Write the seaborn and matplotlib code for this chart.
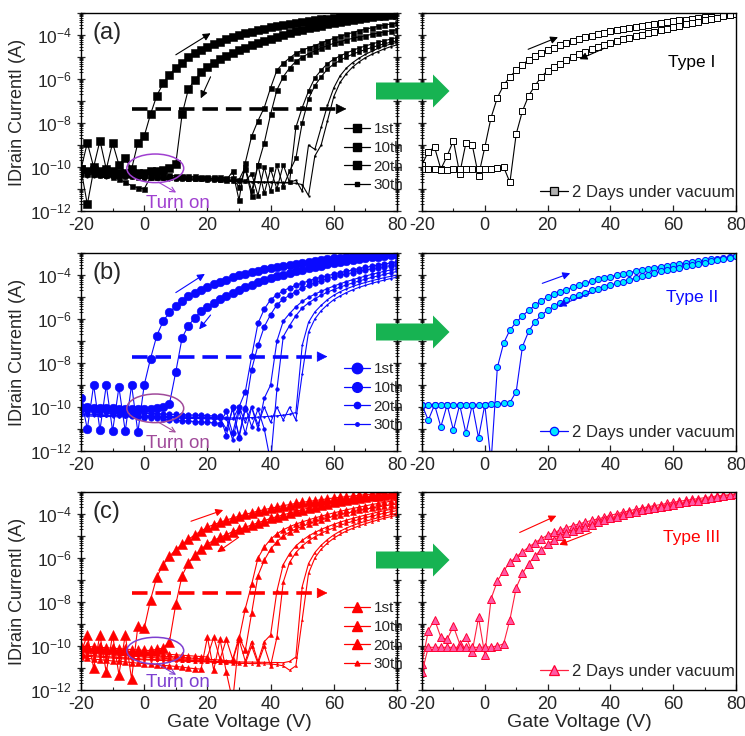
from __future__ import annotations

import matplotlib

matplotlib.use("Agg")
import matplotlib.pyplot as plt
from matplotlib.lines import Line2D
from matplotlib.patches import Ellipse, Polygon
from matplotlib.ticker import FuncFormatter, LogLocator, MultipleLocator, NullFormatter
import numpy as np
import pandas as pd
import seaborn as sns


GATE_V = list(range(-20, 81, 2))
CYCLES = ["1st", "10th", "20th", "30th"]
VAC_LABEL = "2 Days under vacuum"
TYPE_LABELS = ["Type I", "Type II", "Type III"]

# log10(drain current / A), every 2 V from -20 V to 80 V
A1_FWD = [-10.1, -8.9, -10.0, -8.8, -10.1, -8.9, -9.9, -9.6, -10.1, -8.9,
          -8.6, -7.6, -6.75, -6.2, -5.8, -5.5, -5.25, -5.0, -4.82, -4.67,
          -4.53, -4.42, -4.3, -4.2, -4.1, -4.0, -3.92, -3.85, -3.78, -3.72,
          -3.65, -3.6, -3.54, -3.49, -3.44, -3.4, -3.36, -3.32, -3.28, -3.25,
          -3.22, -3.19, -3.16, -3.14, -3.12, -3.1, -3.08, -3.07, -3.06, -3.05,
          -3.04]
A1_REV = [-10.1, -11.7, -10.15, -10.2, -10.2, -10.2, -10.25, -10.25, -10.25, -10.25,
          -10.25, -10.2, -10.2, -10.15, -10.05, -9.85, -7.6, -6.45, -6.05, -5.7,
          -5.44, -5.25, -5.1, -4.95, -4.83, -4.7, -4.58, -4.47, -4.36, -4.26,
          -4.17, -4.08, -4.0, -3.92, -3.84, -3.77, -3.7, -3.63, -3.57, -3.51,
          -3.45, -3.4, -3.35, -3.3, -3.26, -3.22, -3.18, -3.15, -3.12, -3.1,
          -3.08]
A10_FWD = [-10.1, -10.2, -10.25, -10.3, -10.35, -10.45, -10.55, -10.7, -10.85, -10.95,
           -11.0, -10.45, -10.45, -10.45, -10.45, -10.45, -10.45, -10.48, -10.5, -10.5,
           -10.5, -10.52, -10.55, -10.6, -10.2, -11.5, -9.8, -8.6, -7.9, -7.3,
           -6.4, -5.6, -5.28, -5.05, -4.83, -4.7, -4.58, -4.48, -4.36, -4.25,
           -4.15, -4.06, -3.97, -3.89, -3.8, -3.74, -3.67, -3.61, -3.55, -3.5,
           -3.46]
A10_REV = [-10.1, -10.1, -10.12, -10.15, -10.18, -10.2, -10.22, -10.25, -10.28, -10.3,
           -10.32, -10.33, -10.35, -10.36, -10.38, -10.4, -10.4, -10.42, -10.43, -10.44,
           -10.45, -10.46, -10.47, -10.48, -10.5, -10.9, -10.1, -11.3, -9.9, -8.9,
           -7.6, -6.5, -5.9, -5.5, -5.2, -5.0, -4.85, -4.72, -4.6, -4.48,
           -4.38, -4.3, -4.22, -4.15, -4.09, -4.03, -3.97, -3.91, -3.86, -3.81,
           -3.76]
A20_FWD = [-10.3, -10.32, -10.33, -10.35, -10.36, -10.38, -10.4, -10.4, -10.42, -10.43,
           -10.44, -10.45, -10.46, -10.47, -10.48, -10.48, -10.5, -10.5, -10.5, -10.52,
           -10.52, -10.53, -10.55, -10.55, -10.56, -10.58, -10.0, -11.1, -9.9, -11.2,
           -10.1, -11.0, -9.9, -10.7, -8.2, -7.3, -6.55, -5.95, -5.6, -5.3,
           -5.1, -4.95, -4.82, -4.7, -4.59, -4.5, -4.41, -4.33, -4.26, -4.19,
           -4.12]
A20_REV = [-10.35, -10.36, -10.38, -10.4, -10.42, -10.43, -10.45, -10.46, -10.47, -10.48,
           -10.5, -10.5, -10.51, -10.52, -10.52, -10.53, -10.54, -10.55, -10.55, -10.56,
           -10.57, -10.58, -10.6, -10.6, -10.62, -10.62, -10.65, -10.3, -11.3, -10.0,
           -11.1, -9.9, -10.9, -10.2, -9.6, -8.0, -6.9, -6.3, -5.9, -5.55,
           -5.32, -5.15, -5.0, -4.87, -4.76, -4.66, -4.57, -4.48, -4.4, -4.33,
           -4.26]
A30_FWD = [-10.4, -10.4, -10.42, -10.43, -10.44, -10.45, -10.46, -10.47, -10.48, -10.5,
           -10.5, -10.5, -10.51, -10.52, -10.53, -10.54, -10.55, -10.55, -10.56, -10.57,
           -10.58, -10.6, -10.6, -10.62, -10.63, -10.64, -10.65, -10.66, -10.67, -10.68,
           -10.68, -10.7, -10.7, -10.7, -10.6, -11.1, -9.0, -9.2, -8.2, -7.2,
           -6.4, -5.85, -5.5, -5.25, -5.05, -4.88, -4.74, -4.61, -4.5, -4.41,
           -4.33]
A30_REV = [-10.45, -10.45, -10.46, -10.47, -10.48, -10.49, -10.5, -10.5, -10.51, -10.52,
           -10.53, -10.54, -10.55, -10.56, -10.57, -10.58, -10.59, -10.6, -10.6, -10.61,
           -10.62, -10.63, -10.64, -10.65, -10.66, -10.67, -10.68, -10.69, -10.7, -10.7,
           -10.7, -10.72, -10.72, -10.73, -10.74, -10.8, -11.3, -9.5, -9.0, -7.9,
           -6.8, -6.15, -5.75, -5.45, -5.22, -5.03, -4.88, -4.75, -4.63, -4.53,
           -4.45]

B1_FWD = [-9.6, -11.0, -9.0, -11.05, -9.0, -11.1, -9.1, -11.1, -9.0, -11.15,
          -9.0, -7.8, -6.75, -6.1, -5.7, -5.42, -5.18, -4.97, -4.8, -4.66,
          -4.53, -4.42, -4.32, -4.22, -4.1, -4.02, -3.95, -3.87, -3.8, -3.73,
          -3.68, -3.63, -3.58, -3.53, -3.48, -3.44, -3.4, -3.36, -3.32, -3.28,
          -3.24, -3.21, -3.18, -3.15, -3.13, -3.1, -3.08, -3.06, -3.04, -3.03,
          -3.02]
B1_REV = [-10.0, -10.02, -10.03, -10.05, -10.05, -10.06, -10.07, -10.08, -10.08, -10.1,
          -10.1, -10.08, -10.05, -10.0, -9.85, -8.4, -6.85, -6.3, -5.95, -5.65,
          -5.44, -5.25, -5.1, -4.95, -4.8, -4.66, -4.55, -4.44, -4.34, -4.24,
          -4.14, -4.06, -3.98, -3.91, -3.84, -3.77, -3.7, -3.64, -3.58, -3.52,
          -3.46, -3.41, -3.36, -3.32, -3.28, -3.24, -3.2, -3.16, -3.13, -3.1,
          -3.07]
B10_FWD = [-10.0, -10.05, -10.1, -10.15, -10.2, -10.25, -10.3, -10.35, -10.4, -10.45,
           -10.5, -10.5, -10.52, -10.55, -10.57, -10.6, -10.62, -10.64, -10.66, -10.68,
           -10.7, -10.72, -10.75, -10.2, -11.2, -10.0, -9.3, -7.7, -6.2, -5.55,
           -5.12, -4.9, -4.72, -4.58, -4.47, -4.37, -4.27, -4.18, -4.1, -4.03,
           -3.96, -3.89, -3.83, -3.77, -3.71, -3.65, -3.6, -3.55, -3.5, -3.45,
           -3.4]
B10_REV = [-10.15, -10.17, -10.18, -10.2, -10.2, -10.22, -10.23, -10.25, -10.25, -10.27,
           -10.28, -10.3, -10.3, -10.32, -10.33, -10.34, -10.35, -10.36, -10.37, -10.38,
           -10.4, -10.4, -10.42, -11.3, -10.0, -11.4, -10.1, -8.3, -7.2, -6.35,
           -5.8, -5.35, -5.1, -4.92, -4.75, -4.6, -4.47, -4.36, -4.26, -4.17,
           -4.09, -4.02, -3.95, -3.89, -3.83, -3.77, -3.72, -3.67, -3.62, -3.57,
           -3.53]
B20_FWD = [-10.2, -10.22, -10.24, -10.26, -10.28, -10.3, -10.32, -10.33, -10.35, -10.36,
           -10.38, -10.4, -10.4, -10.42, -10.43, -10.44, -10.45, -10.46, -10.47, -10.48,
           -10.5, -10.5, -10.52, -10.5, -11.5, -10.2, -11.2, -10.0, -11.0, -9.6,
           -9.0, -7.0, -6.1, -5.75, -5.45, -5.2, -5.02, -4.87, -4.74, -4.62,
           -4.5, -4.4, -4.3, -4.21, -4.13, -4.05, -3.97, -3.9, -3.83, -3.77,
           -3.71]
B20_REV = [-10.3, -10.32, -10.33, -10.35, -10.36, -10.38, -10.39, -10.4, -10.42, -10.43,
           -10.44, -10.45, -10.46, -10.47, -10.48, -10.49, -10.5, -10.5, -10.51, -10.52,
           -10.53, -10.54, -10.55, -11.0, -10.1, -11.3, -10.0, -10.9, -10.1, -11.0,
           -12.5, -9.2, -6.8, -6.3, -5.85, -5.5, -5.27, -5.08, -4.92, -4.78,
           -4.66, -4.55, -4.45, -4.36, -4.27, -4.19, -4.11, -4.04, -3.97, -3.9,
           -3.84]
B30_FWD = [-10.35, -10.36, -10.37, -10.38, -10.39, -10.4, -10.4, -10.41, -10.42, -10.42,
           -10.43, -10.43, -10.44, -10.44, -10.45, -10.45, -10.46, -10.46, -10.47, -10.47,
           -10.48, -10.48, -10.49, -10.49, -10.5, -10.5, -10.5, -10.48, -10.46, -10.44,
           -10.42, -10.4, -10.37, -10.33, -10.25, -7.2, -6.15, -5.68, -5.38, -5.12,
           -4.92, -4.76, -4.63, -4.52, -4.42, -4.34, -4.26, -4.19, -4.12, -4.06,
           -4.0]
B30_REV = [-10.4, -10.41, -10.42, -10.43, -10.43, -10.44, -10.45, -10.45, -10.46, -10.47,
           -10.47, -10.48, -10.48, -10.49, -10.5, -10.5, -10.51, -10.52, -10.52, -10.53,
           -10.53, -10.54, -10.55, -10.55, -10.56, -10.0, -10.7, -10.0, -10.8, -10.0,
           -10.7, -10.0, -10.6, -10.0, -10.6, -8.5, -6.6, -6.0, -5.62, -5.35,
           -5.12, -4.95, -4.8, -4.67, -4.56, -4.47, -4.38, -4.3, -4.23, -4.16,
           -4.1]

C1_FWD = [-10.3, -9.5, -11.0, -9.5, -11.2, -9.5, -11.3, -9.5, -11.5, -9.1,
          -9.2, -7.9, -6.85, -6.3, -5.92, -5.62, -5.38, -5.15, -4.95, -4.77,
          -4.6, -4.48, -4.38, -4.28, -4.18, -4.1, -4.02, -3.94, -3.87, -3.8,
          -3.74, -3.68, -3.62, -3.57, -3.52, -3.47, -3.43, -3.39, -3.35, -3.31,
          -3.27, -3.24, -3.21, -3.18, -3.15, -3.12, -3.1, -3.08, -3.06, -3.04,
          -3.02]
C1_REV = [-10.0, -10.02, -10.04, -10.06, -10.08, -10.1, -10.12, -10.14, -10.16, -10.18,
          -10.2, -10.2, -10.15, -10.1, -9.8, -8.1, -6.8, -6.22, -5.88, -5.6,
          -5.36, -5.2, -5.06, -4.94, -4.8, -4.7, -4.6, -4.5, -4.4, -4.3,
          -4.2, -4.12, -4.04, -3.96, -3.88, -3.8, -3.73, -3.66, -3.6, -3.53,
          -3.47, -3.42, -3.37, -3.32, -3.28, -3.24, -3.2, -3.16, -3.13, -3.1,
          -3.07]
C10_FWD = [-10.5, -10.55, -10.6, -10.62, -10.65, -10.68, -10.7, -10.72, -10.75, -10.78,
           -10.8, -10.82, -10.85, -10.88, -10.9, -10.93, -10.96, -11.0, -11.03, -11.05,
           -9.6, -11.1, -9.7, -11.2, -12.5, -9.7, -8.3, -7.2, -6.0, -5.5,
           -5.15, -4.9, -4.72, -4.58, -4.46, -4.36, -4.27, -4.18, -4.1, -4.02,
           -3.95, -3.88, -3.81, -3.75, -3.69, -3.63, -3.57, -3.52, -3.47, -3.42,
           -3.37]
C10_REV = [-10.1, -10.12, -10.14, -10.16, -10.18, -10.2, -10.22, -10.24, -10.26, -10.28,
           -10.3, -10.32, -10.34, -10.36, -10.38, -10.4, -10.42, -10.44, -10.46, -10.48,
           -10.5, -9.6, -10.6, -9.7, -10.6, -9.6, -10.2, -8.5, -6.8, -6.1,
           -5.6, -5.25, -5.0, -4.82, -4.68, -4.56, -4.45, -4.35, -4.26, -4.18,
           -4.1, -4.03, -3.96, -3.9, -3.84, -3.78, -3.73, -3.68, -3.63, -3.59,
           -3.55]
C20_FWD = [-10.2, -10.22, -10.24, -10.26, -10.28, -10.3, -10.32, -10.34, -10.36, -10.38,
           -10.4, -10.42, -10.44, -10.46, -10.48, -10.5, -10.52, -10.54, -10.56, -10.58,
           -10.6, -10.62, -10.64, -10.66, -10.68, -9.7, -10.7, -9.8, -10.7, -9.8,
           -9.5, -7.5, -6.3, -5.8, -5.45, -5.2, -5.0, -4.84, -4.7, -4.58,
           -4.47, -4.37, -4.28, -4.2, -4.12, -4.05, -3.98, -3.91, -3.85, -3.79,
           -3.74]
C20_REV = [-10.3, -10.32, -10.34, -10.36, -10.38, -10.4, -10.42, -10.44, -10.46, -10.48,
           -10.5, -10.52, -10.54, -10.56, -10.58, -10.6, -10.62, -10.64, -10.66, -10.68,
           -10.7, -10.7, -10.72, -10.74, -10.76, -10.78, -10.8, -10.0, -10.8, -10.0,
           -10.9, -9.6, -7.1, -6.2, -5.75, -5.45, -5.22, -5.04, -4.88, -4.75,
           -4.63, -4.52, -4.42, -4.33, -4.25, -4.17, -4.1, -4.03, -3.96, -3.9,
           -3.85]
C30_FWD = [-10.4, -10.42, -10.44, -10.46, -10.48, -10.5, -10.52, -10.54, -10.56, -10.58,
           -10.6, -10.61, -10.62, -10.63, -10.64, -10.65, -10.66, -10.67, -10.68, -10.69,
           -10.7, -10.7, -10.71, -10.71, -10.72, -10.72, -10.73, -10.73, -10.74, -10.74,
           -10.75, -10.75, -10.76, -10.7, -10.5, -7.3, -6.25, -5.75, -5.42, -5.16,
           -4.95, -4.78, -4.64, -4.52, -4.42, -4.33, -4.25, -4.17, -4.1, -4.03,
           -3.97]
C30_REV = [-10.45, -10.47, -10.49, -10.51, -10.53, -10.55, -10.57, -10.59, -10.6, -10.62,
           -10.63, -10.64, -10.65, -10.66, -10.67, -10.68, -10.69, -10.7, -10.71, -10.72,
           -10.73, -10.74, -10.75, -10.76, -10.77, -10.78, -10.79, -10.8, -10.8, -10.81,
           -10.82, -10.85, -10.9, -11.1, -10.9, -8.8, -6.7, -6.0, -5.6, -5.32,
           -5.1, -4.92, -4.77, -4.65, -4.54, -4.44, -4.35, -4.27, -4.19, -4.12,
           -4.06]

# after 2 days under vacuum (right-hand panels)
VA_FWD = [-9.9, -9.3, -9.1, -10.1, -9.5, -8.8, -10.3, -8.9, -9.0, -10.4,
          -9.1, -7.75, -6.85, -6.28, -5.9, -5.6, -5.35, -5.12, -4.97, -4.83,
          -4.7, -4.57, -4.45, -4.35, -4.27, -4.19, -4.11, -4.04, -3.97, -3.9,
          -3.84, -3.78, -3.72, -3.67, -3.62, -3.58, -3.54, -3.5, -3.46, -3.42,
          -3.38, -3.34, -3.3, -3.26, -3.23, -3.2, -3.16, -3.13, -3.1, -3.07,
          -3.05]
VA_REV = [-10.1, -10.1, -10.1, -10.12, -10.12, -10.1, -10.1, -10.1, -10.1, -10.1,
          -10.1, -10.08, -10.05, -10.0, -10.7, -8.5, -7.45, -6.75, -6.3, -5.9,
          -5.62, -5.45, -5.3, -5.13, -5.0, -4.88, -4.77, -4.65, -4.55, -4.46,
          -4.37, -4.28, -4.2, -4.13, -4.06, -3.99, -3.92, -3.85, -3.78, -3.71,
          -3.64, -3.57, -3.51, -3.45, -3.39, -3.33, -3.27, -3.21, -3.15, -3.09,
          -3.05]
VB_FWD = [-9.9, -10.6, -9.9, -10.9, -9.9, -11.05, -9.9, -11.2, -9.9, -11.4,
          -9.9, -12.5, -8.2, -7.1, -6.5, -6.15, -5.86, -5.6, -5.38, -5.17,
          -5.0, -4.87, -4.76, -4.66, -4.55, -4.46, -4.37, -4.28, -4.2, -4.13,
          -4.07, -4.01, -3.95, -3.89, -3.83, -3.77, -3.72, -3.67, -3.62, -3.57,
          -3.53, -3.49, -3.45, -3.41, -3.37, -3.33, -3.29, -3.25, -3.21, -3.18,
          -3.15]
VB_REV = [-9.9, -9.9, -9.9, -9.9, -9.9, -9.9, -9.9, -9.9, -9.9, -9.9,
          -9.9, -9.88, -9.85, -9.83, -9.8, -9.3, -7.25, -6.55, -6.12, -5.83,
          -5.6, -5.42, -5.27, -5.12, -4.99, -4.9, -4.8, -4.7, -4.62, -4.54,
          -4.46, -4.38, -4.3, -4.22, -4.14, -4.06, -3.98, -3.91, -3.84, -3.78,
          -3.72, -3.66, -3.6, -3.55, -3.5, -3.44, -3.38, -3.32, -3.27, -3.21,
          -3.15]
VC_FWD = [-10.8, -9.3, -8.8, -9.6, -9.7, -9.1, -9.9, -9.6, -10.25, -8.7,
          -10.4, -7.85, -7.05, -6.58, -6.2, -5.95, -5.72, -5.5, -5.3, -5.12,
          -4.96, -4.84, -4.73, -4.63, -4.53, -4.45, -4.37, -4.29, -4.22, -4.15,
          -4.06, -3.99, -3.92, -3.85, -3.79, -3.73, -3.67, -3.62, -3.57, -3.52,
          -3.47, -3.42, -3.38, -3.34, -3.3, -3.26, -3.22, -3.18, -3.15, -3.12,
          -3.09]
VC_REV = [-11.2, -10.06, -10.06, -10.06, -10.06, -10.06, -10.06, -10.06, -10.06, -10.06,
          -10.05, -10.04, -10.0, -9.9, -8.8, -7.35, -6.7, -6.25, -5.9, -5.62,
          -5.38, -5.17, -5.0, -4.88, -4.77, -4.68, -4.58, -4.48, -4.38, -4.28,
          -4.2, -4.12, -4.04, -3.97, -3.9, -3.84, -3.78, -3.72, -3.67, -3.62,
          -3.57, -3.52, -3.47, -3.43, -3.39, -3.34, -3.29, -3.24, -3.19, -3.14,
          -3.1]


PANELS = [
    dict(tag="(a)", color="#000000", marker="s", purple="#a040d0",
         sweeps=[(A1_FWD, A1_REV), (A10_FWD, A10_REV), (A20_FWD, A20_REV), (A30_FWD, A30_REV)],
         sizes=[5.8, 3.6, 2.2, 1.0], legend_sizes=[5.5, 5.5, 5.5, 2.5],
         vacuum=(VA_FWD, VA_REV), vac_line="#000000", vac_face="white", vac_edge="#000000",
         vac_ms=4.2, vac_legend_face="#b0b0b0", vac_legend_ms=5.5,
         dash_y=-7.36, dash_tip=64, ell_y=-10.06, ell_h=1.3,
         up=((10, -4.9), (21, -3.92)), down=((21, -5.9), (17.9, -6.88)),
         vac_up=((13.8, -4.65), (23.3, -4.1)), vac_down=((38.1, -4.6), (30.2, -5.1)),
         type_y=-5.24),
    dict(tag="(b)", color="#0a0aff", marker="o", purple="#a04a9a",
         sweeps=[(B1_FWD, B1_REV), (B10_FWD, B10_REV), (B20_FWD, B20_REV), (B30_FWD, B30_REV)],
         sizes=[6.2, 4.0, 2.6, 1.2], legend_sizes=[7.5, 7.0, 4.5, 2.5],
         vacuum=(VB_FWD, VB_REV), vac_line="#0a0aff", vac_face="#00e8ff", vac_edge="#0a0aff",
         vac_ms=4.4, vac_legend_face="#00e8ff", vac_legend_ms=6.0,
         dash_y=-7.71, dash_tip=58, ell_y=-10.06, ell_h=1.3,
         up=((10, -4.8), (19.2, -3.95)), down=((21, -5.82), (17.4, -6.47)),
         vac_up=((18.3, -4.38), (27.2, -3.92)), vac_down=((33.9, -4.8), (23.5, -5.41)),
         type_y=-5.01),
    dict(tag="(c)", color="#ff0000", marker="^", purple="#7d3fd0",
         sweeps=[(C1_FWD, C1_REV), (C10_FWD, C10_REV), (C20_FWD, C20_REV), (C30_FWD, C30_REV)],
         sizes=[6.6, 4.5, 2.8, 1.5], legend_sizes=[7.0, 7.0, 7.0, 3.5],
         vacuum=(VC_FWD, VC_REV), vac_line="#ff2040", vac_face="#ff5aa5", vac_edge="#ff0033",
         vac_ms=5.4, vac_legend_face="#ff5aa5", vac_legend_ms=7.0,
         dash_y=-7.59, dash_tip=58, ell_y=-10.21, ell_h=1.21,
         up=((14.8, -4.33), (25, -3.82)), down=((29.9, -5.06), (23.1, -5.74)),
         vac_up=((11.1, -4.84), (22.8, -4.08)), vac_down=((33.9, -4.84), (23.7, -5.4)),
         type_y=-5.06),
]

FIG_W, FIG_H = 745, 736
ROW_TOPS = [13, 253, 492]
ROW_H = 198
ARROW_CENTERS = [91, 332, 560]


def sweep_frame(log_current):
    return pd.DataFrame({"V": GATE_V, "I": np.power(10.0, log_current)})


def decade_label(value, _pos):
    exp = int(round(np.log10(value)))
    return f"$10^{{{exp}}}$" if exp % 2 == 0 else ""


def style_axes(ax, left_side):
    ax.set_yscale("log")
    ax.set_xlim(-20, 80)
    ax.set_ylim(1e-12, 1e-3)
    ax.xaxis.set_major_locator(MultipleLocator(20))
    ax.xaxis.set_minor_locator(MultipleLocator(10))
    ax.yaxis.set_major_locator(LogLocator(base=10, numticks=15))
    ax.yaxis.set_minor_locator(LogLocator(base=10, subs=np.arange(2, 10), numticks=15))
    ax.yaxis.set_major_formatter(FuncFormatter(decade_label))
    ax.yaxis.set_minor_formatter(NullFormatter())
    ax.tick_params(axis="x", which="both", direction="in", top=False, bottom=True,
                   labelsize=13, pad=4)
    ax.tick_params(axis="x", which="major", length=4, width=0.9)
    ax.tick_params(axis="x", which="minor", length=2, width=0.8)
    ax.tick_params(axis="y", which="both", direction="inout", left=True, right=left_side,
                   labelleft=left_side, labelsize=12.5)
    ax.tick_params(axis="y", which="major", length=6, width=0.9)
    ax.tick_params(axis="y", which="minor", length=3.5, width=0.7)
    ax.set_xlabel("")
    ax.set_ylabel("")
    for spine in ax.spines.values():
        spine.set_visible(True)
        spine.set_color("black")
        spine.set_linewidth(1.0)


def thin_arrow(ax, start, end, color, lw=0.8, style="-|>", scale=11):
    ax.annotate("", xy=(end[0], 10 ** end[1]), xytext=(start[0], 10 ** start[1]),
                arrowprops=dict(arrowstyle=style, color=color, lw=lw, mutation_scale=scale,
                                shrinkA=0, shrinkB=0))


def draw_left(ax, p, bottom_row):
    for idx in reversed(range(len(CYCLES))):
        for log_current in p["sweeps"][idx]:
            sns.lineplot(data=sweep_frame(log_current), x="V", y="I", ax=ax,
                         color=p["color"], linewidth=0.8, marker=p["marker"],
                         markersize=p["sizes"][idx], markeredgecolor=p["color"],
                         markeredgewidth=0.4, estimator=None, sort=False, legend=False)
    style_axes(ax, True)

    handles = [Line2D([], [], color=p["color"], lw=0.9, marker=p["marker"], ms=ms,
                      mec=p["color"], mfc=p["color"]) for ms in p["legend_sizes"]]
    ax.legend(handles, CYCLES, loc="lower right", bbox_to_anchor=(1.02, 0.095),
              frameon=False, fontsize=11, handlelength=1.7, handletextpad=0.25,
              labelspacing=0.3, borderaxespad=0, borderpad=0)

    # dashed shift arrow
    dash_x = [-4, p["dash_tip"] - 3]
    ax.plot(dash_x, [10 ** p["dash_y"]] * 2, color=p["color"], lw=2.6, dashes=(4.3, 2.2))
    ax.annotate("", xy=(p["dash_tip"], 10 ** p["dash_y"]),
                xytext=(p["dash_tip"] - 3.2, 10 ** p["dash_y"]),
                arrowprops=dict(arrowstyle="-|>", color=p["color"], lw=0.5,
                                mutation_scale=17, shrinkA=0, shrinkB=0))

    thin_arrow(ax, *p["up"], p["color"])
    thin_arrow(ax, *p["down"], p["color"])

    # "Turn on" marker
    ell_cy = (p["ell_y"] + 12) / 9
    ax.add_patch(Ellipse((0.235, ell_cy), 0.18, p["ell_h"] / 9, transform=ax.transAxes,
                         fill=False, ec=p["purple"], lw=1.1, zorder=5))
    thin_arrow(ax, (4.4, p["ell_y"] - 0.62), (10.1, p["ell_y"] - 1.1), p["purple"],
               lw=0.8, style="->", scale=9)
    ax.text(10.6, 10 ** -11.68, "Turn on", color=p["purple"], fontsize=13.5,
            ha="center", va="center", clip_on=True)

    ax.text(0.035, 0.955, p["tag"], transform=ax.transAxes, fontsize=17,
            ha="left", va="top")
    ax.set_ylabel("IDrain CurrentI (A)", fontsize=13, labelpad=3)
    if bottom_row:
        ax.set_xlabel("Gate Voltage (V)", fontsize=14, labelpad=1)


def draw_right(ax, p, type_label, bottom_row):
    for log_current in p["vacuum"]:
        sns.lineplot(data=sweep_frame(log_current), x="V", y="I", ax=ax,
                     color=p["vac_line"], linewidth=0.8, marker=p["marker"],
                     markersize=p["vac_ms"], markerfacecolor=p["vac_face"],
                     markeredgecolor=p["vac_edge"], markeredgewidth=0.7,
                     estimator=None, sort=False, legend=False)
    style_axes(ax, False)

    handle = Line2D([], [], color=p["vac_line"], lw=0.9, marker=p["marker"],
                    ms=p["vac_legend_ms"], mfc=p["vac_legend_face"], mec=p["vac_edge"], mew=0.9)
    ax.legend([handle], [VAC_LABEL], loc="lower right", bbox_to_anchor=(0.995, 0.055),
              frameon=False, fontsize=12, handlelength=1.7, handletextpad=0.2,
              borderaxespad=0, borderpad=0)

    thin_arrow(ax, *p["vac_up"], p["color"])
    thin_arrow(ax, *p["vac_down"], p["color"])
    ax.text(66, 10 ** p["type_y"], type_label, color=p["color"], fontsize=12.5,
            ha="center", va="center")
    if bottom_row:
        ax.set_xlabel("Gate Voltage (V)", fontsize=14, labelpad=1)


def green_arrow(fig, cy):
    pts_px = [(376, cy - 8.5), (433, cy - 8.5), (433, cy - 16.5), (449.5, cy),
              (433, cy + 16.5), (433, cy + 8.5), (376, cy + 8.5)]
    pts = [(x / FIG_W, 1 - y / FIG_H) for x, y in pts_px]
    fig.add_artist(Polygon(pts, closed=True, transform=fig.transFigure,
                           fc="#17b352", ec="none", zorder=10))


def main() -> None:
    sns.set_theme(style="ticks")
    plt.rcParams["font.family"] = ["Liberation Sans", "DejaVu Sans"]
    plt.rcParams["mathtext.default"] = "regular"
    plt.rcParams["axes.unicode_minus"] = False

    fig = plt.figure(figsize=(FIG_W / 100, FIG_H / 100), dpi=100)
    fig.patch.set_facecolor("white")

    for row, (p, type_label) in enumerate(zip(PANELS, TYPE_LABELS)):
        bottom = 1 - (ROW_TOPS[row] + ROW_H) / FIG_H
        height = ROW_H / FIG_H
        ax_left = fig.add_axes([81 / FIG_W, bottom, 316 / FIG_W, height])
        ax_right = fig.add_axes([422 / FIG_W, bottom, 314 / FIG_W, height])
        draw_left(ax_left, p, row == 2)
        draw_right(ax_right, p, type_label, row == 2)
        green_arrow(fig, ARROW_CENTERS[row])

    fig.savefig("out.png", dpi=100, facecolor="white")
    plt.close(fig)


if __name__ == "__main__":
    main()
